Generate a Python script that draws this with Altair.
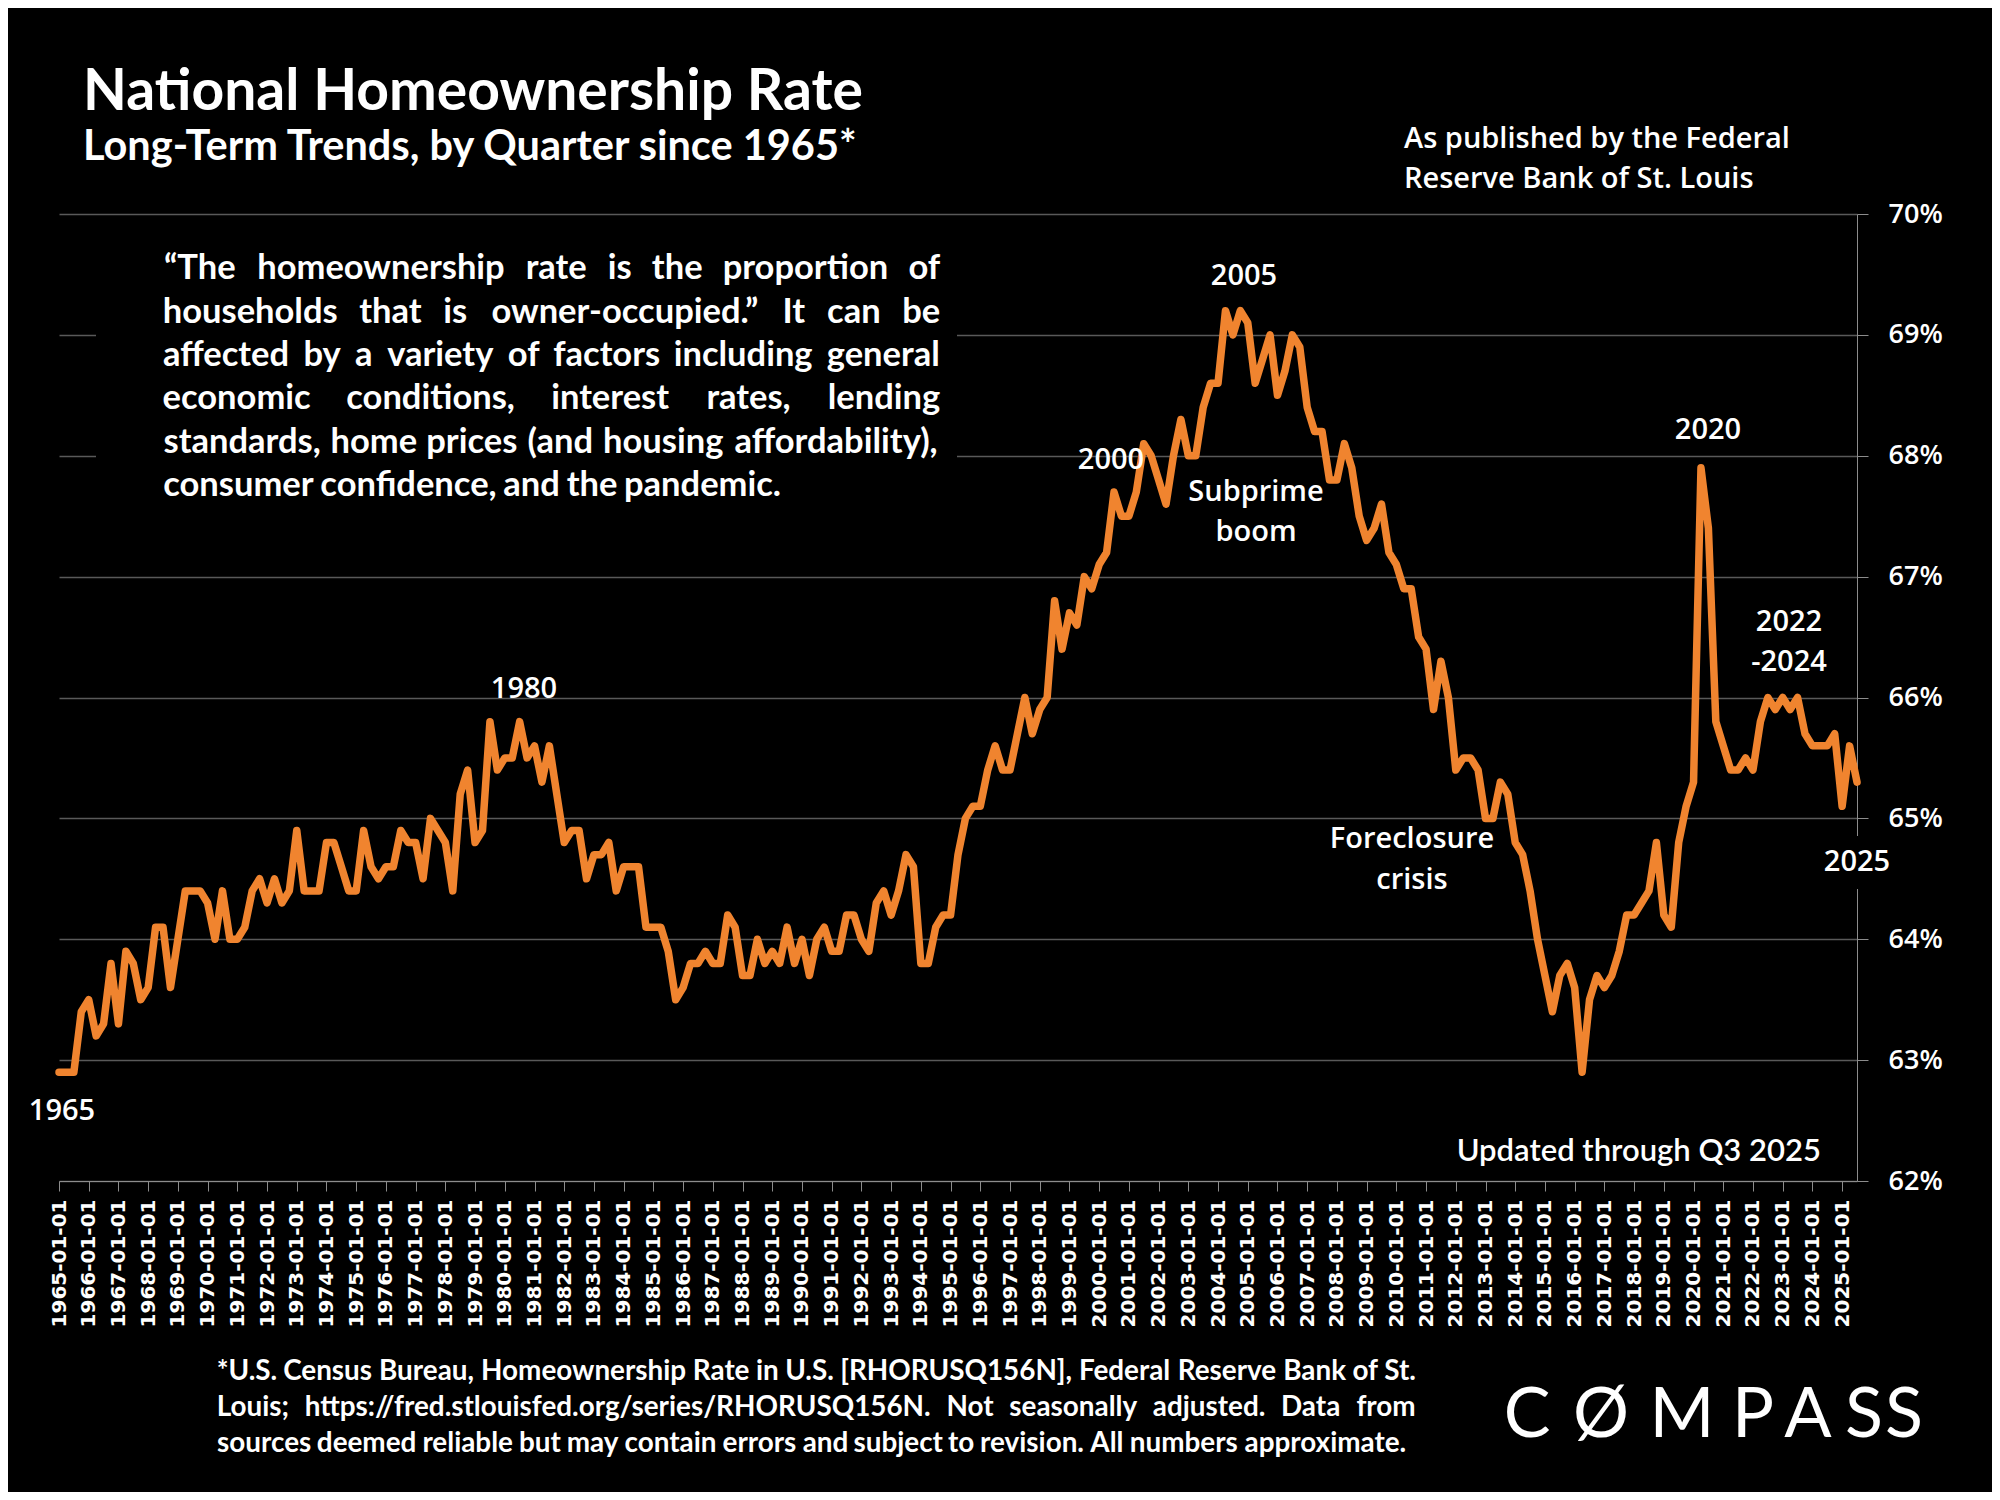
import altair as alt
import pandas as pd

# ---------------- data (quarterly homeownership rate, %) ----------------
r1965_69 = [62.9, 62.9, 62.9, 63.4, 63.5, 63.2, 63.3, 63.8, 63.3, 63.9, 63.8, 63.5,
            63.6, 64.1, 64.1, 63.6, 64.0, 64.4, 64.4, 64.4]
r1970s = [64.3, 64.0, 64.4, 64.0, 64.0, 64.1, 64.4, 64.5, 64.3, 64.5, 64.3, 64.4,
          64.9, 64.4, 64.4, 64.4, 64.8, 64.8, 64.6, 64.4, 64.4, 64.9, 64.6, 64.5,
          64.6, 64.6, 64.9, 64.8, 64.8, 64.5, 65.0, 64.9, 64.8, 64.4, 65.2, 65.4,
          64.8, 64.9, 65.8, 65.4]
r1980s = [65.5, 65.5, 65.8, 65.5, 65.6, 65.3, 65.6, 65.2, 64.8, 64.9, 64.9, 64.5,
          64.7, 64.7, 64.8, 64.4, 64.6, 64.6, 64.6, 64.1, 64.1, 64.1, 63.9, 63.5,
          63.6, 63.8, 63.8, 63.9, 63.8, 63.8, 64.2, 64.1, 63.7, 63.7, 64.0, 63.8,
          63.9, 63.8, 64.1, 63.8]
r1990s = [64.0, 63.7, 64.0, 64.1, 63.9, 63.9, 64.2, 64.2, 64.0, 63.9, 64.3, 64.4,
          64.2, 64.4, 64.7, 64.6, 63.8, 63.8, 64.1, 64.2, 64.2, 64.7, 65.0, 65.1,
          65.1, 65.4, 65.6, 65.4, 65.4, 65.7, 66.0, 65.7, 65.9, 66.0, 66.8, 66.4,
          66.7, 66.6, 67.0, 66.9]
r2000s = [67.1, 67.2, 67.7, 67.5, 67.5, 67.7, 68.1, 68.0, 67.8, 67.6, 68.0, 68.3,
          68.0, 68.0, 68.4, 68.6, 68.6, 69.2, 69.0, 69.2, 69.1, 68.6, 68.8, 69.0,
          68.5, 68.7, 69.0, 68.9, 68.4, 68.2, 68.2, 67.8, 67.8, 68.1, 67.9, 67.5,
          67.3, 67.4, 67.6, 67.2]
r2010s = [67.1, 66.9, 66.9, 66.5, 66.4, 65.9, 66.3, 66.0, 65.4, 65.5, 65.5, 65.4,
          65.0, 65.0, 65.3, 65.2, 64.8, 64.7, 64.4, 64.0, 63.7, 63.4, 63.7, 63.8,
          63.6, 62.9, 63.5, 63.7, 63.6, 63.7, 63.9, 64.2, 64.2, 64.3, 64.4, 64.8,
          64.2, 64.1, 64.8, 65.1]
r2020s = [65.3, 67.9, 67.4, 65.8, 65.6, 65.4, 65.4, 65.5, 65.4, 65.8, 66.0, 65.9,
          66.0, 65.9, 66.0, 65.7, 65.6, 65.6, 65.6, 65.7, 65.1, 65.6, 65.3]

first_year = 1965
y_ticks = [62, 63, 64, 65, 66, 67, 68, 69, 70]

title = "National Homeownership Rate"
subtitle = "Long-Term Trends, by Quarter since 1965*"
source_lines = ["As published by the Federal", "Reserve Bank of St. Louis"]
quote_lines = [
    "\u201cThe homeownership rate is the proportion of",
    "households that is owner-occupied.\u201d It can be",
    "affected by a variety of factors including general",
    "economic conditions, interest rates, lending",
    "standards, home prices (and housing affordability),",
    "consumer confidence, and the pandemic.",
]
foot_lines = [
    "*U.S. Census Bureau, Homeownership Rate in U.S. [RHORUSQ156N], Federal Reserve Bank of St.",
    "Louis; https://fred.stlouisfed.org/series/RHORUSQ156N. Not seasonally adjusted. Data from",
    "sources deemed reliable but may contain errors and subject to revision. All numbers approximate.",
]
updated = "Updated through Q3 2025"
logo_letters = ["C", "\u00d8", "M", "P", "A", "S", "S"]

# ---------------- build table ----------------
rates = r1965_69 + r1970s + r1980s + r1990s + r2000s + r2010s + r2020s
df = pd.DataFrame({"idx": list(range(len(rates))), "rate": rates})
n_last = len(rates) - 1

# ---------------- layout (reference pixel coords) ----------------
OX, OY = 59, 214          # plot origin in the reference image
PW, PH = 1798, 967        # plot area
ORANGE = "#F0842F"
WHITE = "#FFFFFF"

LATO_B = {" ": .20, "a": .512, "b": .566, "c": .466, "d": .566, "e": .527, "f": .346,
          "g": .512, "h": .566, "i": .257, "j": .257, "k": .531, "l": .257, "m": .852,
          "n": .566, "o": .566, "p": .563, "q": .566, "r": .388, "s": .437, "t": .363,
          "u": .566, "v": .526, "w": .797, "x": .519, "y": .526, "z": .468,
          "A": .70, "B": .66, "C": .66, "D": .75, "E": .56, "F": .54, "G": .72, "H": .76,
          "I": .30, "J": .40, "K": .68, "L": .49, "M": .92, "N": .76, "O": .80, "P": .62,
          "Q": .80, "R": .65, "S": .54, "T": .59, "U": .73, "V": .70, "W": 1.03, "X": .68,
          "Y": .65, "Z": .62, ".": .24, ",": .24, ";": .26, ":": .26, "(": .32, ")": .32,
          "[": .33, "]": .33, "-": .36, "/": .40, "\u201c": .45, "\u201d": .45, "*": .40}


def est(s):
    return sum(LATO_B.get(ch, .58) for ch in s)


def justify(line, x0, x1, y, size):
    words = line.split()
    ws = [est(w) * size for w in words]
    gap = (x1 - x0 - sum(ws)) / (len(words) - 1)
    rows, x = [], x0
    for w, wd in zip(words, ws):
        rows.append({"x": x + wd / 2 - OX, "y": y - OY, "t": w})
        x += wd + gap
    return rows


def pos(rows):
    return pd.DataFrame([{"x": x - OX, "y": y - OY, "t": t} for t, x, y in rows])


def text_layer(data, **kw):
    return alt.Chart(data).mark_text(**kw).encode(
        x=alt.X("x:Q", scale=None, axis=None),
        y=alt.Y("y:Q", scale=None, axis=None),
        text="t:N",
    )


# quote paragraph (justified)
q_size = 618 / est(quote_lines[-1])
q_y = [269, 313, 356, 399, 443, 486]
q_rows = []
for ln, yy in zip(quote_lines[:-1], q_y[:-1]):
    q_rows += justify(ln, 163, 940, yy, q_size)
q_rows += justify(quote_lines[-1], 163, 781, q_y[-1], q_size)

# footnote (justified)
f_size = 1190 / est(foot_lines[-1])
f_y = [1372, 1408, 1444]
f_rows = []
for ln, yy in zip(foot_lines[:-1], f_y[:-1]):
    f_rows += justify(ln, 217, 1416, yy, f_size)
f_rows += justify(foot_lines[-1], 217, 1407, f_y[-1], f_size)

# ---------------- chart ----------------
line = alt.Chart(df).mark_line(color=ORANGE, strokeWidth=7.5, strokeJoin="round",
                               strokeCap="round").encode(
    x=alt.X("idx:Q", scale=alt.Scale(domain=[0, n_last], nice=False, zero=False),
            axis=alt.Axis(values=list(range(0, n_last + 1, 4)),
                          labelExpr=f"'' + ({first_year} + datum.value / 4) + '-01-01'",
                          title=None, grid=False, labelAngle=270, labelOverlap=False,
                          labelFont="DejaVu Sans", labelFontWeight="bold", labelFontSize=20,
                          labelColor=WHITE, labelPadding=8, tickSize=10,
                          tickColor="#8c8c8c", domainColor="#8c8c8c", labelBound=False,
                          labelFlush=False)),
    y=alt.Y("rate:Q", scale=alt.Scale(domain=[62, 70], nice=False, zero=False),
            axis=alt.Axis(orient="right", values=y_ticks, labelExpr="datum.value + '%'",
                          title=None, grid=True, gridColor="#595959", gridWidth=1.3,
                          domainColor="#8c8c8c", tickColor="#8c8c8c", tickSize=11,
                          labelPadding=20, labelFont="Open Sans", labelFontWeight=600,
                          labelFontSize=27, labelColor=WHITE, labelAlign="left")),
)

boxes = pd.DataFrame([
    {"x": 96 - OX, "x2": 957 - OX, "y": 242 - OY, "y2": 512 - OY},
    {"x": 1822 - OX, "x2": 1892 - OX, "y": 836 - OY, "y2": 889 - OY},
])
box_layer = alt.Chart(boxes).mark_rect(color="#000000").encode(
    x=alt.X("x:Q", scale=None, axis=None), x2="x2:Q",
    y=alt.Y("y:Q", scale=None, axis=None), y2="y2:Q")

ann = pos([("1965", 62, 1111), ("1980", 524, 689), ("2000", 1111, 460),
           ("2005", 1244, 276), ("Subprime", 1256, 492), ("boom", 1256, 532),
           ("2020", 1708, 430), ("2022", 1789, 622), ("-2024", 1789, 662),
           ("Foreclosure", 1412, 839), ("crisis", 1412, 880), ("2025", 1857, 862)])
ann_layer = text_layer(ann, font="Open Sans", fontWeight=600, fontSize=29, color=WHITE,
                       align="center", baseline="middle")

src = pos([(source_lines[0], 1404, 139), (source_lines[1], 1404, 179)])
src_layer = text_layer(src, font="Open Sans", fontWeight=600, fontSize=29, color=WHITE,
                       align="left", baseline="middle")

title_layer = text_layer(pos([(title, 83, 110)]), font="Lato", fontWeight="bold",
                         fontSize=57, color=WHITE, align="left", baseline="alphabetic")
sub_layer = text_layer(pos([(subtitle, 83, 160)]), font="Lato", fontWeight="bold",
                       fontSize=41.5, color=WHITE, align="left", baseline="alphabetic")

quote_layer = text_layer(pd.DataFrame(q_rows), font="Lato", fontWeight="bold",
                         fontSize=q_size, color=WHITE, align="center", baseline="middle")
foot_layer = text_layer(pd.DataFrame(f_rows), font="Lato", fontWeight="bold",
                        fontSize=f_size, color=WHITE, align="center", baseline="middle")
upd_layer = text_layer(pos([(updated, 1821, 1152)]), font="Lato", fontWeight=600,
                       fontSize=31, color=WHITE, align="right", baseline="middle")

logo_x = [1527, 1601, 1682, 1753, 1808, 1864, 1904]
logo = pos([(t, x, 1416) for t, x in zip(logo_letters, logo_x)])
logo_layer = text_layer(logo, font="Lato", fontWeight="normal", fontSize=70, color=WHITE,
                        align="center", baseline="middle")

chart = alt.layer(
    box_layer, line, ann_layer, src_layer, title_layer, sub_layer, quote_layer,
    foot_layer, upd_layer, logo_layer,
).properties(
    width=PW, height=PH,
    autosize=alt.AutoSizeParams(type="none"),
    padding={"left": OX - 8, "top": OY - 8, "right": 1984 - (OX - 8) - PW,
             "bottom": 1484 - (OY - 8) - PH},
    background="#000000",
).configure_view(strokeWidth=0)

chart.save("out.html", embed_options={"renderer": "svg", "actions": False})
